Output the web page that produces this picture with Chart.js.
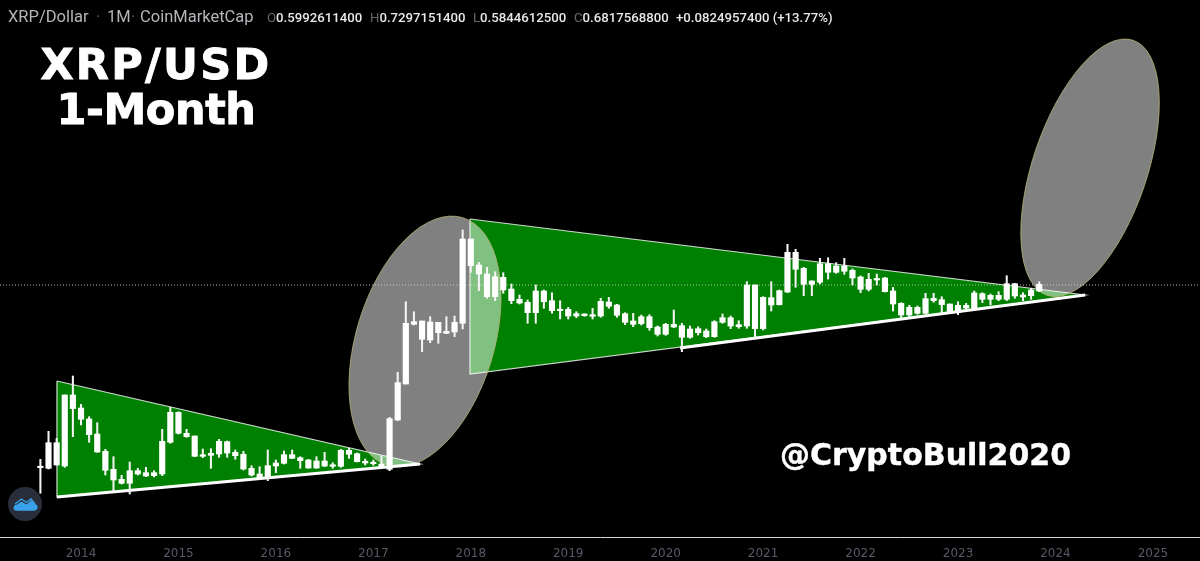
<!DOCTYPE html>
<html><head><meta charset="utf-8">
<script src="https://cdn.jsdelivr.net/npm/chart.js@4/dist/chart.umd.min.js"></script>
<style>
html,body{margin:0;padding:0;background:#000;width:1200px;height:561px;overflow:hidden}
#c{position:absolute;left:0;top:0}
.t{position:absolute;white-space:nowrap;color:#fff}
.n{font:400 16.5px Roboto,sans-serif;color:#b4b5ba;top:7px}
.h{font:500 13.2px Roboto,sans-serif;color:#e8e8ea;top:10px}
.h b{font-weight:400;color:#66686f}
.big{font:bold 43px/50px "DejaVu Sans",sans-serif;text-align:center;width:300px;left:6px;-webkit-text-stroke:.9px #fff}
</style></head><body>
<canvas id="c" width="1200" height="561"></canvas>
<div class="t n" style="left:8px">XRP/Dollar</div>
<div class="t n" style="left:96px;color:#55575e">·</div>
<div class="t n" style="left:107px">1M</div>
<div class="t n" style="left:131px;color:#55575e">·</div>
<div class="t n" style="left:140px">CoinMarketCap</div>
<div class="t h" style="left:267px"><b>O</b>0.5992611400</div>
<div class="t h" style="left:370px"><b>H</b>0.7297151400</div>
<div class="t h" style="left:473px"><b>L</b>0.5844612500</div>
<div class="t h" style="left:574px"><b>C</b>0.6817568800</div>
<div class="t h" style="left:676px">+0.0824957400 (+13.77%)</div>
<div class="t big" style="top:39px;letter-spacing:2.3px">XRP/USD</div>
<div class="t big" style="top:84px;letter-spacing:-.4px">1-Month</div>
<div class="t" style="left:780px;top:437px;font:bold 30px 'DejaVu Sans',sans-serif;-webkit-text-stroke:.4px #fff">@CryptoBull2020</div>
<svg class="t" style="left:8px;top:487px" width="34" height="34" viewBox="0 0 34 34">
<circle cx="17" cy="17" r="17" fill="#2a2e3b"/>
<path d="M5.5 21c0-2 1.5-3 3-3.2l5-3.3 5 3 4.500-4 3.500 3.500c2.500.2 3.500 2 3 4s-2 2.700-3.500 2.700H9c-2.200 0-3.500-1-3.500-2.700z" fill="#39a2ea"/>
<path d="M7 17l6.500-5 5 3.500 4.500-3.500 4 5" fill="none" stroke="#39a2ea" stroke-width="1.400"/>
</svg>
<script>
// Monthly candles, Aug 2013 to Nov 2023. Values are positions on the chart's
// (unlabelled) logarithmic price axis.
const firstMonth = -5; // months relative to Jan 2014
const wickTop = [40.7,68.7,61.7,105,124,95.7,83.3,77.3,50.7,43.3,24.7,38,31.7,32.7,29.3,70.7,92.7,88.3,70.7,64,51,51.3,60.7,59,50,48.7,34.3,33.3,50,40,49,50,43.3,40.7,43.3,47.7,37.3,50.7,51.7,47,41,40,44,82.7,127.7,198.3,188.3,179,183.3,177.7,183.3,184,270,261,237.7,232.7,228.3,227.3,216,205,200,215,210,207.3,199.3,192.7,188.3,186.3,191.7,201.7,202.7,195.7,187.3,186.7,185,185.3,174,176.7,190,176.7,174,173.3,171,179.3,186,184,179.3,218.3,215,203.3,218.3,210,255.7,250.7,232.7,219.3,241.7,242.3,237.3,241.7,231,224,226.7,226,222.7,212.7,197.3,194.7,194,206.7,206.7,203.3,196,198.3,196.7,209,207.3,206,208.3,224.3,216.7,207.3,211.7,218.3];
const bodyTop = [33.7,57.3,57.3,105,105,92,81,66,48.7,30.7,20.7,29.3,29.3,27.3,27.3,58.7,87.7,87.7,66.7,64,45.3,46.7,58.7,58.3,47.7,45.7,31.7,26,34.3,37,45.3,45.3,42.3,40,39,39,34.7,49.7,49.7,46.3,38.7,37.7,36,81.3,117.3,176.7,178.3,179,178,177.7,168.7,177.7,261,261,235,226,223.3,222.7,211,200.7,197.7,209,209,199.3,190.7,190.7,186.3,186,185.3,198.7,198,195,186.3,179,183.3,183.3,173,175.7,175.7,174.3,171,171.3,169,178.3,182.3,182.3,175.3,215,215,202.7,202.3,209.3,247.7,247.7,231.7,219,236.3,236.3,234,234,229.7,223,220.7,221.3,222,209,196.7,192.7,192.7,201.3,201.7,200.3,196,194.7,194.7,207,206.3,204.7,204.7,216.3,216.3,205,210,215.7];
const bodyBottom = [32.3,31.7,35,34,91.3,80.7,65.3,48,29.7,20,16.7,16.7,26,24,24.3,26,57.7,66.7,63.3,43.7,43.7,44.7,46,47,44.3,31,25,21.7,22.7,34,36.7,41.7,39.3,32,32,34,33.7,33.7,45.7,38.3,37,36.3,32.7,30.7,80,116,175.7,160.7,160,167.3,166.7,168,176.7,234.3,226,203.3,203.3,210,199.3,197,187.3,187.3,198.3,189.3,189.3,184,184,184.3,183.7,184,193.7,184.7,177.7,175.7,176.3,172.3,165.7,165.7,173,162.7,162.7,167.3,163.3,163.3,177.7,174,173.3,174,171.3,171.3,195,195.3,208,230.7,215.7,215.7,217.7,227.7,227.7,228.7,222,210.7,210.7,220,208.3,196,185,185,186.7,186.7,199.3,195.3,187.7,187.7,192,191.7,200.7,200.7,200.7,200.7,204,203,204.3,209];
const wickBottom = [6.7,31,35,32.7,63.3,75,57.7,47.7,25,9,16,6,25,23.3,23,24.3,56.7,66,62.7,43.3,42.3,31.7,42.7,42.7,40.7,30,24,20.7,19.3,27.3,36,41.3,31.7,31.7,31.7,33.3,31.7,32.7,41.7,38,35,34.7,32.7,29.3,79.3,116,175,148.3,157.3,156.7,166.3,163.3,171,227.7,209.3,201.7,199.3,206.7,196.3,196,176.7,176.7,191.7,186.7,181,181,182.3,183.7,181,182.7,191.7,182.7,175.3,173.3,175,169.7,164,164.7,172.3,148.3,161.7,165,162.3,162.7,176.7,171.3,171.7,171.7,162.7,170,189,195,207.3,212.7,204.3,204.3,216,221,226.7,225.7,215,207.3,209,215,208,189,182.3,183.3,185.7,186,197.7,187.3,186.7,185.3,190.7,191,197.3,195,199.3,199.3,201.7,199.3,200.7,208.3];
const yearLabels = ['2014','2015','2016','2017','2018','2019','2020','2021','2022','2023','2024','2025'];
const lastClose = 215;
// Drawn pattern lines (month, axis position)
const triangleA = [{x:-2.96,y:119},{x:41.75,y:36},{x:-2.96,y:3},{x:-2.96,y:119}];
const triangleB = [{x:47.9,y:281},{x:123.65,y:205},{x:47.9,y:126},{x:47.9,y:281}];
const supportA = [{x:-2.96,y:3},{x:41.75,y:36}];
const supportB = [{x:73.77,y:152},{x:123.65,y:205}];
// Ellipses: ends of the long axis, and short/long ratio
const ellipseA = {from:[37.71,34.7], to:[47.02,282.3], ratio:0.533};
const ellipseB = {from:[118.95,204.7], to:[129.57,459.7], ratio:0.425};

const xMin=-9.975, xMax=137.8, yMin=-37, yMax=500;
const months = bodyTop.map((_,i)=>firstMonth+i);
const xy = (arrA,arrB)=>months.map((m,i)=>({x:m,y:[arrA[i],arrB[i]]}));

const ellipses = {
  id:'ellipses',
  afterDatasetDraw(chart,args){
    if(args.index!==1) return;
    const {ctx,scales:{x,y}}=chart;
    for(const e of [ellipseA,ellipseB]){
      const x1=x.getPixelForValue(e.from[0]),y1=y.getPixelForValue(e.from[1]);
      const x2=x.getPixelForValue(e.to[0]),y2=y.getPixelForValue(e.to[1]);
      const a=Math.hypot(x2-x1,y2-y1)/2;
      ctx.save();
      ctx.beginPath();
      ctx.ellipse((x1+x2)/2,(y1+y2)/2,a,a*e.ratio,Math.atan2(y2-y1,x2-x1),0,Math.PI*2);
      ctx.fillStyle='rgba(255,255,255,0.5)';
      ctx.fill();
      ctx.lineWidth=1;
      ctx.strokeStyle='rgba(185,178,120,0.8)';
      ctx.stroke();
      ctx.restore();
    }
  }
};

const poly=(data,order)=>({type:'line',data,order,fill:'shape',backgroundColor:'rgb(0,128,0)',
  borderColor:'rgba(225,235,225,0.9)',borderWidth:1.2,pointRadius:0,tension:0});
const thick=(data,order)=>({type:'line',data,order,fill:false,borderColor:'#fff',borderWidth:3,pointRadius:0,tension:0});

new Chart(document.getElementById('c'),{
  type:'bar',
  data:{datasets:[
    poly(triangleA,7),
    poly(triangleB,6),
    thick(supportA,5),
    thick(supportB,4),
    {type:'line',data:[{x:xMin,y:lastClose},{x:xMax,y:lastClose}],order:3,fill:false,borderColor:'rgba(215,215,215,0.85)',borderWidth:1,borderDash:[1,2],pointRadius:0},
    {data:xy(wickBottom,wickTop),order:2,barThickness:1.4,grouped:false,backgroundColor:'#f4f4f4',borderWidth:0},
    {data:xy(bodyBottom,bodyTop),order:1,barThickness:5.5,grouped:false,backgroundColor:'#fff',borderWidth:0,minBarLength:1.5}
  ]},
  plugins:[ellipses],
  options:{
    responsive:false,animation:false,devicePixelRatio:1,
    layout:{padding:0},
    plugins:{legend:{display:false},tooltip:{enabled:false},title:{display:false}},
    scales:{
      x:{type:'linear',min:xMin,max:xMax,offset:false,
        grid:{display:false,drawTicks:true,tickLength:3,tickColor:'#d0d0d0'},
        border:{display:true,color:'#d6d6d6',width:1},
        afterBuildTicks(s){s.ticks=yearLabels.map((_,i)=>({value:i*12}));},
        afterFit(s){s.height=24;},
        ticks:{autoSkip:false,maxRotation:0,padding:7,color:'#565a66',font:{family:'"DejaVu Sans"',size:12},
          callback:(v)=>yearLabels[v/12]}
      },
      y:{type:'linear',display:false,min:yMin,max:yMax}
    }
  }
});
</script>
</body></html>
